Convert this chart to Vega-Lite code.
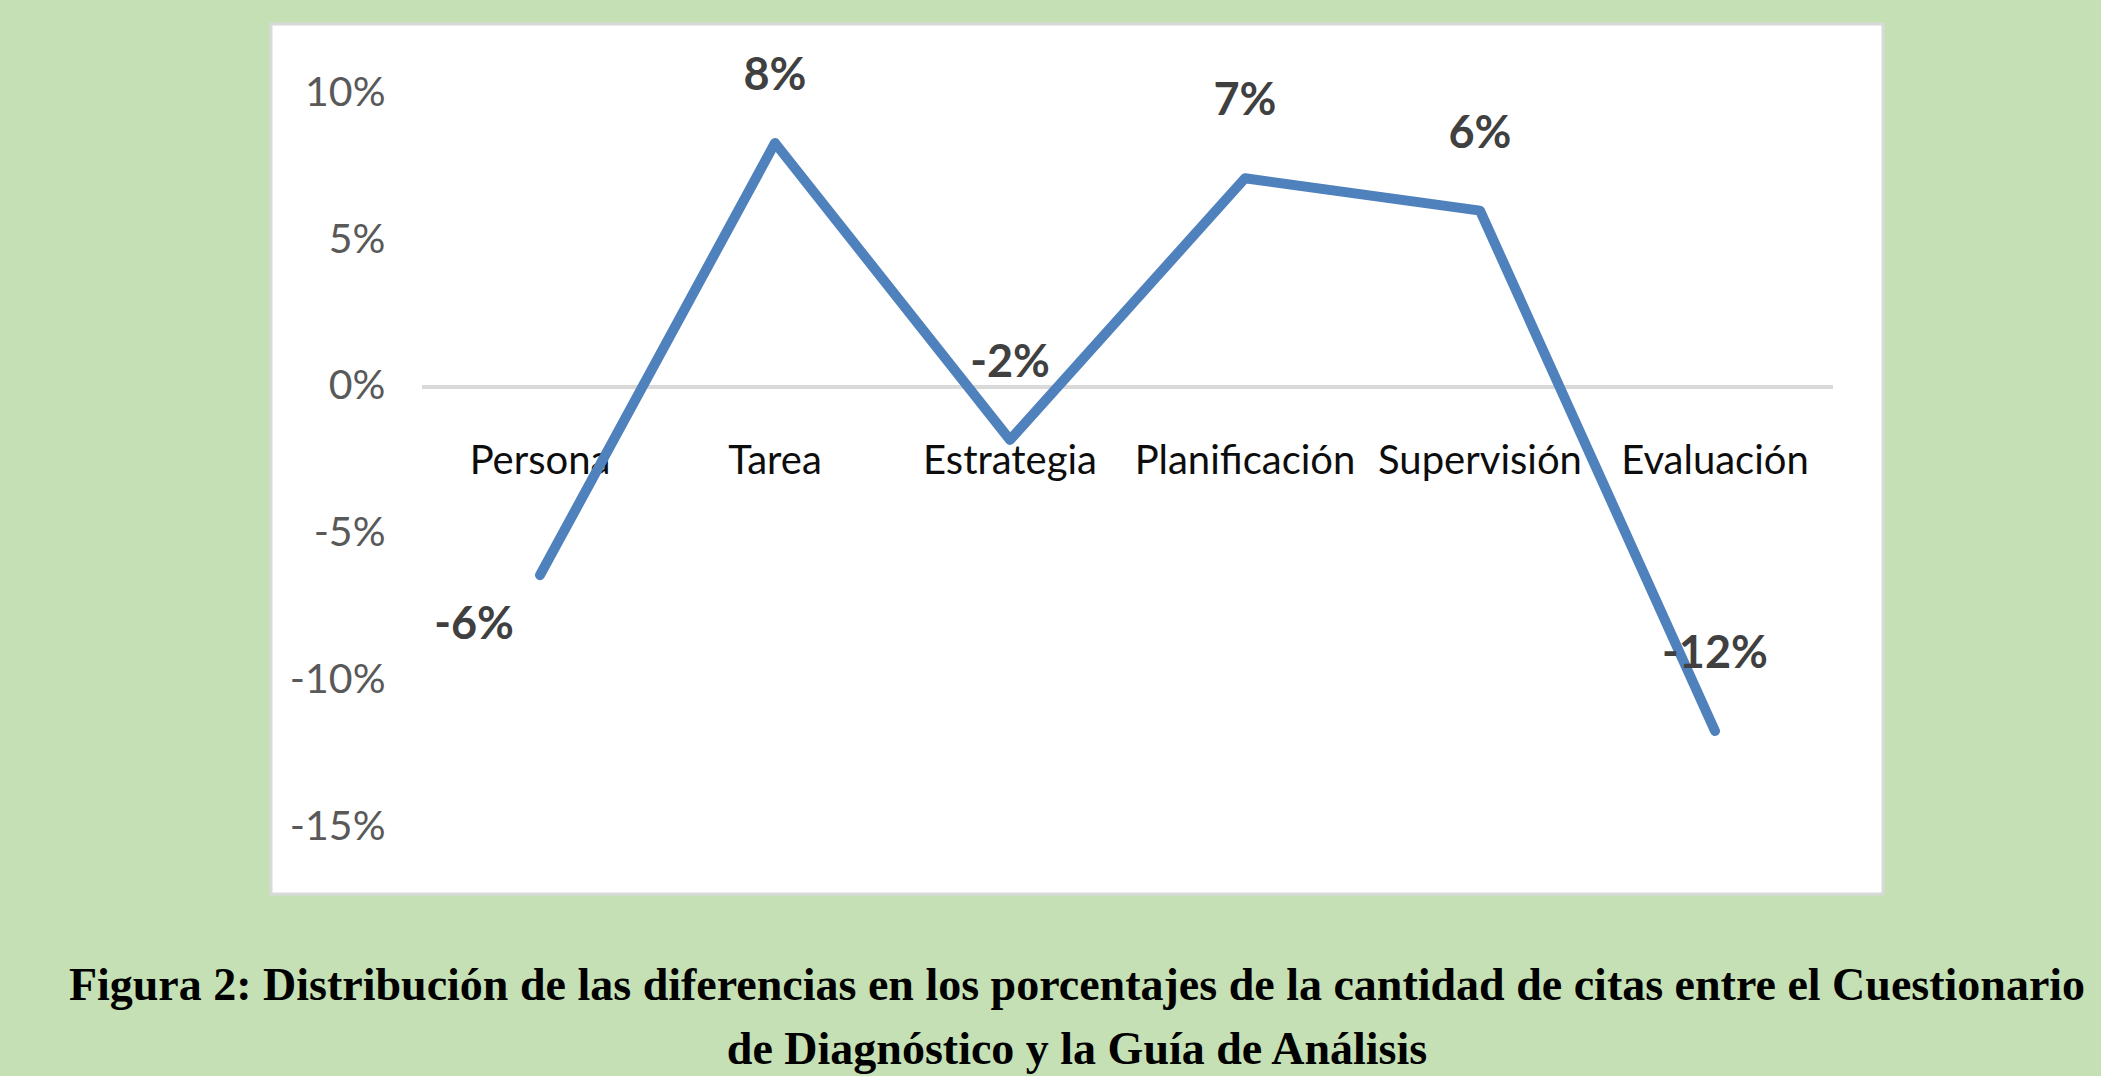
{
  "$schema": "https://vega.github.io/schema/vega-lite/v6.json",
  "width": 1612,
  "height": 870,
  "autosize": {"type": "none"},
  "padding": {"left": 271, "top": 24, "right": 218, "bottom": 182},
  "background": "#C5E0B4",
  "config": {
    "locale": {"number": {"decimal": ".", "thousands": ",", "grouping": [3], "currency": ["$", ""], "minus": "-"}},
    "view": {"fill": "white", "stroke": "#D9D9D9", "strokeWidth": 3}
  },
  "title": {
    "text": ["Figura 2: Distribución de las diferencias en los porcentajes  de la cantidad de citas entre el Cuestionario", "de Diagnóstico y la Guía de Análisis"],
    "orient": "bottom",
    "anchor": "middle",
    "frame": "group",
    "font": "Liberation Serif",
    "fontSize": 46,
    "fontWeight": "bold",
    "color": "black",
    "lineHeight": 64,
    "baseline": "top",
    "offset": 70
  },
  "data": {
    "values": [
      {"categoria": "Persona", "valor": -0.064},
      {"categoria": "Tarea", "valor": 0.083},
      {"categoria": "Estrategia", "valor": -0.018},
      {"categoria": "Planificación", "valor": 0.071},
      {"categoria": "Supervisión", "valor": 0.060},
      {"categoria": "Evaluación", "valor": -0.117}
    ]
  },
  "encoding": {
    "x": {
      "field": "categoria",
      "type": "nominal",
      "sort": null,
      "scale": {"type": "band", "domain": ["Persona", "Tarea", "Estrategia", "Planificación", "Supervisión", "Evaluación"], "paddingInner": 0, "paddingOuter": 0.4298, "align": 0.75},
      "axis": {
        "title": null,
        "orient": "bottom",
        "offset": -421,
        "domain": false,
        "ticks": false,
        "tickSize": 0,
        "grid": false,
        "labelPadding": 0,
        "labelBaseline": "alphabetic",
        "labelAngle": 0,
        "labelLimit": 0,
        "labelFont": "Lato",
        "labelFontSize": 40,
        "labelColor": "#0D0D0D"
      }
    },
    "y": {
      "field": "valor",
      "type": "quantitative",
      "scale": {"domain": [-0.17245, 0.12347], "nice": false, "zero": false},
      "axis": {
        "title": null,
        "values": [-0.15, -0.1, -0.05, 0, 0.05, 0.1],
        "format": ".0%",
        "offset": -114,
        "domain": false,
        "ticks": false,
        "tickSize": 0,
        "grid": false,
        "labelPadding": 0,
        "labelBaseline": "middle",
        "labelFont": "Lato",
        "labelFontSize": 41,
        "labelColor": "#595959"
      }
    }
  },
  "layer": [
    {
      "mark": {"type": "rule", "color": "#D9D9D9", "strokeWidth": 4},
      "encoding": {
        "x": {"datum": "Persona", "type": "nominal", "bandPosition": 0},
        "x2": {"datum": "Evaluación", "bandPosition": 1},
        "y": {"datum": 0, "type": "quantitative"}
      }
    },
    {
      "mark": {"type": "line", "color": "#4F81BD", "strokeWidth": 10, "strokeCap": "round", "strokeJoin": "round"}
    },
    {
      "transform": [{"filter": "datum.categoria !== 'Persona' && datum.categoria !== 'Tarea'"}],
      "mark": {"type": "text", "font": "Lato", "fontSize": 45, "fontWeight": "bold", "color": "#404040", "baseline": "middle", "align": "center", "dy": -77},
      "encoding": {"text": {"field": "valor", "format": ".0%"}}
    },
    {
      "transform": [{"filter": "datum.categoria === 'Tarea'"}],
      "mark": {"type": "text", "font": "Lato", "fontSize": 45, "fontWeight": "bold", "color": "#404040", "baseline": "middle", "align": "center", "dy": -67},
      "encoding": {"text": {"field": "valor", "format": ".0%"}}
    },
    {
      "transform": [{"filter": "datum.categoria === 'Persona'"}],
      "mark": {"type": "text", "font": "Lato", "fontSize": 45, "fontWeight": "bold", "color": "#404040", "baseline": "middle", "align": "center", "dx": -66, "dy": 50},
      "encoding": {"text": {"field": "valor", "format": ".0%"}}
    }
  ]
}
